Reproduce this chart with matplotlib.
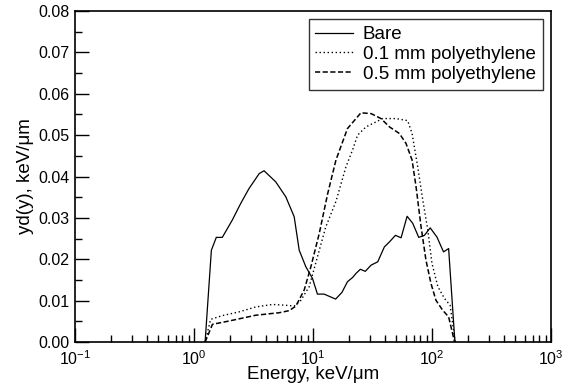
import numpy as np
import matplotlib
matplotlib.use("Agg")
import matplotlib.pyplot as plt
from matplotlib.ticker import LogLocator, MultipleLocator, FormatStrFormatter

plt.rcParams["font.family"] = ["Liberation Sans", "DejaVu Sans"]
plt.rcParams["mathtext.fontset"] = "custom"
plt.rcParams["mathtext.rm"] = "Liberation Sans"
plt.rcParams["mathtext.it"] = "Liberation Sans"

# -----------------------------
# Data
# -----------------------------
bare_x = [1.24, 1.40, 1.54, 1.73, 2.10, 2.47, 2.90, 3.53, 3.88, 4.87, 5.91, 6.95,
          7.66, 8.71, 9.9, 10.9, 12.4, 15.5, 17.5, 19.5, 21.5, 23.0, 25.0, 27.5,
          30.8, 35.0, 39.8, 43.9, 49.3, 55.0, 61.8, 68.9, 77.4, 86.4, 96.6, 110,
          125, 138, 155, 157]
bare_y = [0.0, 0.0222, 0.0253, 0.0253, 0.0295, 0.0335, 0.0371, 0.0407, 0.0414,
          0.0387, 0.0351, 0.0303, 0.0222, 0.0182, 0.0154, 0.0116, 0.0116, 0.0104,
          0.0120, 0.0146, 0.0156, 0.0166, 0.0176, 0.0171, 0.0186, 0.0194, 0.0230,
          0.0242, 0.0258, 0.0252, 0.0304, 0.0287, 0.0253, 0.0258, 0.0276, 0.0254,
          0.0218, 0.0226, 0.001, 0.0]

pe01_x = [1.24, 1.38, 1.73, 2.39, 3.31, 4.57, 5.92, 6.95, 7.91, 9.3, 10.9, 12.8,
          15.6, 18.9, 21.5, 23.7, 27.9, 38.5, 49.9, 62.5, 68, 75.9, 83.7, 92.2,
          100, 112, 127, 142, 155, 157]
pe01_y = [0.0, 0.0055, 0.0064, 0.0073, 0.0085, 0.0091, 0.0089, 0.0087, 0.0101,
          0.0134, 0.0206, 0.0278, 0.0340, 0.0423, 0.0464, 0.0500, 0.0520, 0.0540,
          0.0540, 0.0535, 0.0504, 0.0423, 0.0343, 0.0271, 0.0190, 0.0134, 0.0106,
          0.0089, 0.001, 0.0]

pe05_x = [1.24, 1.43, 1.97, 3.31, 5.2, 6.3, 7.18, 8.44, 9.6, 11.3, 13.3, 15.6,
          19.5, 25.3, 30.8, 37.3, 43.9, 53.2, 60.5, 68, 73.5, 81, 89, 98, 108,
          123, 138, 152, 155]
pe05_y = [0.0, 0.0043, 0.0051, 0.0065, 0.0071, 0.0076, 0.0087, 0.0126, 0.0182,
          0.0263, 0.0359, 0.0440, 0.0516, 0.0554, 0.0552, 0.0540, 0.0520, 0.0504,
          0.0480, 0.0440, 0.0375, 0.0278, 0.0198, 0.0142, 0.0101, 0.0077, 0.0061,
          0.001, 0.0]

labels = ["Bare", "0.1 mm polyethylene", "0.5 mm polyethylene"]

fig = plt.figure(figsize=(5.65, 3.91), dpi=100)
ax = fig.add_axes([0.1327, 0.125, 0.8425, 0.847])

ax.plot(bare_x, bare_y, color="black", lw=0.9, linestyle="-", label=labels[0])
ax.plot(pe01_x, pe01_y, color="black", lw=1.0, linestyle=(0, (1, 1.9)), label=labels[1])
ax.plot(pe05_x, pe05_y, color="black", lw=1.1, linestyle=(0, (3.4, 1.6)), label=labels[2])

ax.set_xscale("log")
ax.set_xlim(0.1, 1000)
ax.set_ylim(0, 0.08)
ax.yaxis.set_major_locator(MultipleLocator(0.01))
ax.yaxis.set_minor_locator(MultipleLocator(0.005))
ax.yaxis.set_major_formatter(FormatStrFormatter("%.2f"))
ax.xaxis.set_major_locator(LogLocator(base=10, numticks=10))
ax.xaxis.set_minor_locator(LogLocator(base=10, subs=np.arange(2, 10), numticks=10))

ax.tick_params(which="both", direction="in", top=False, right=False, labelsize=11.5, width=1.0)
ax.tick_params(which="major", length=10)
ax.tick_params(which="minor", length=5)
ax.tick_params(axis="y", which="major", pad=4)
ax.tick_params(axis="x", which="major", pad=5)
for sp in ax.spines.values():
    sp.set_linewidth(1.2)

ax.set_xlabel("Energy, keV/\u03bcm", fontsize=13.5, labelpad=-1)
ax.set_ylabel("yd(y), keV/\u03bcm", fontsize=13.5, labelpad=3)

leg = ax.legend(loc="upper right", fontsize=13.5, frameon=True, fancybox=False,
                handlelength=2.0, handletextpad=0.55, borderpad=0.35,
                labelspacing=0.15, borderaxespad=0.45)
leg.get_frame().set_edgecolor("black")
leg.get_frame().set_linewidth(1.0)

fig.savefig("out.png", dpi=100)
